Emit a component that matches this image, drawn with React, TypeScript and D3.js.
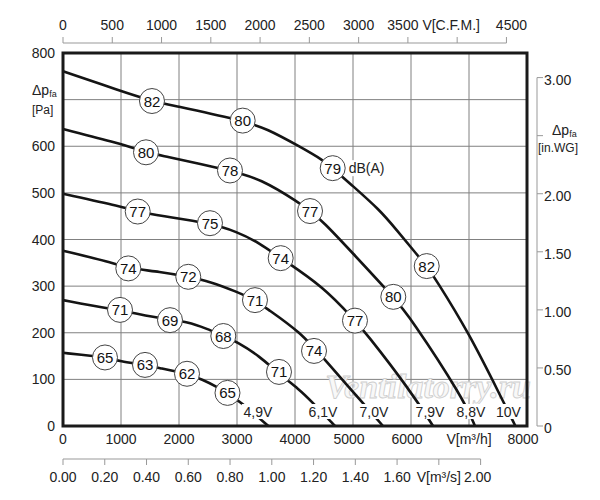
import React from "react";
import * as d3 from "d3";

// ---- data (flow m3/h, static pressure Pa) ----
const curve10V: number[][] = [[0,761],[983,719],[1534,697],[1845,689],[3098,655],[3511,638],[4086,599],[4488,570],[4650,553],[4948,520],[5466,463],[5753,420],[6040,377],[6270,343],[6414,317],[6988,202],[7564,59],[7800,0]];
const curve8_8V: number[][] = [[0,637],[983,606],[1431,587],[1672,581],[2879,548],[3397,531],[4086,478],[4259,461],[4488,438],[4948,377],[5695,277],[5983,234],[6902,59],[7103,0]];
const curve7_9V: number[][] = [[0,498],[1040,470],[1287,460],[1672,451],[2534,435],[2994,417],[3397,392],[3753,360],[4488,299],[5034,226],[5207,202],[5983,77],[6380,0]];
const curve7_0V: number[][] = [[0,376],[897,349],[1126,338],[1672,331],[2161,320],[2534,310],[2994,288],[3310,270],[3511,252],[4086,202],[4517,142],[5517,0]];
const curve6_1V: number[][] = [[0,270],[753,252],[983,249],[1213,242],[1845,227],[2132,224],[2477,209],[2764,193],[2994,181],[3397,149],[3684,116],[4086,77],[4259,56],[4690,0]];
const curve4_9V: number[][] = [[0,157],[523,150],[724,147],[983,139],[1414,131],[1672,124],[2132,112],[2420,99],[2649,84],[2822,71],[3060,52],[3540,0]];
const curves = [curve10V, curve8_8V, curve7_9V, curve7_0V, curve6_1V, curve4_9V];

// sound level labels [Q, P, dB]
const sound10V = [[1534,697,82],[3098,655,80],[4650,553,79],[6271,343,82]];
const sound8_8V = [[1431,587,80],[2879,548,78],[4259,461,77],[5695,277,80]];
const sound7_9V = [[1288,460,77],[2534,435,75],[3753,360,74],[5034,226,77]];
const sound7_0V = [[1126,338,74],[2160,320,72],[3310,270,71],[4328,161,74]];
const sound6_1V = [[983,249,71],[1845,227,69],[2764,193,68],[3724,116,71]];
const sound4_9V = [[724,147,65],[1414,131,63],[2138,112,62],[2836,71,65]];
const soundLabels = [sound10V, sound8_8V, sound7_9V, sound7_0V, sound6_1V, sound4_9V];

const voltLabels = ["4,9V", "6,1V", "7,0V", "7,9V", "8,8V", "10V"];
const voltLabelQ = [3362, 4483, 5362, 6328, 7034, 7681];
const voltLabelP = 30;

const flowTicks = [0, 1000, 2000, 3000, 4000, 5000, 6000, 7000, 8000];
const flowTickLabels = ["0", "1000", "2000", "3000", "4000", "5000", "6000", "V[m³/h]", "8000"];
const pressTicks = [0, 100, 200, 300, 400, 500, 600, 700, 800];
const pressTickLabels = ["0", "100", "200", "300", "400", "500", "600", "", "800"];
const cfmTicks = [0, 500, 1000, 1500, 2000, 2500, 3000, 3500, 4000, 4500];
const cfmTickLabels = ["0", "500", "1000", "1500", "2000", "2500", "3000", "3500", "V[C.F.M.]", "4500"];
const m3sTicks = [0, 0.2, 0.4, 0.6, 0.8, 1.0, 1.2, 1.4, 1.6, 1.8, 2.0];
const m3sTickLabels = ["0.00", "0.20", "0.40", "0.60", "0.80", "1.00", "1.20", "1.40", "1.60", "V[m³/s]", "2.00"];
const wgTicks = [0, 0.5, 1.0, 1.5, 2.0, 2.5, 3.0];
const wgTickLabels = ["0", "0.50", "1.00", "1.50", "2.00", "", "3.00"];

const FONT = "'Liberation Sans', Arial, Helvetica, sans-serif";
const TXT = "#222";

export default function App() {
  const L = 63, R = 527, T = 53, B = 426;
  const x = d3.scaleLinear().domain([0, 8000]).range([L, R]);
  const y = d3.scaleLinear().domain([0, 800]).range([B, T]);
  const xCfm = d3.scaleLinear().domain([0, 8000 / 1.699]).range([L, R]);
  const xM3s = d3.scaleLinear().domain([0, 8000 / 3600]).range([L, R]);
  const yWg = d3.scaleLinear().domain([0, 800 / 249.09]).range([B, T]);
  const line = d3.line<number[]>().x(d => x(d[0])).y(d => y(d[1])).curve(d3.curveBasis);

  const topAxisY = 43;
  const m3sAxisY = 459;
  const rightAxisX = 537;

  return (
    <svg width={600} height={500} style={{ position: "absolute", left: 0, top: 0, background: "#fff" }} fontFamily={FONT}>
      <rect x={0} y={0} width={600} height={500} fill="#fff" />
      {/* grid */}
      {flowTicks.slice(1, -1).map(t => (
        <line key={"gx" + t} x1={x(t)} x2={x(t)} y1={T} y2={B} stroke="#808080" strokeWidth={1} />
      ))}
      {pressTicks.slice(1, -1).map(t => (
        <line key={"gy" + t} x1={L} x2={R} y1={y(t)} y2={y(t)} stroke="#808080" strokeWidth={1} />
      ))}
      {/* watermark */}
      <text x={428} y={398} textAnchor="middle" fontFamily="'Liberation Serif', 'Times New Roman', serif"
        fontStyle="italic" fontWeight="bold" fontSize={34} fill="#f8f8f8" stroke="#cfcfcf" strokeWidth={0.9}>
        Ventilatorry.ru
      </text>
      {/* curves */}
      {curves.map((c, i) => (
        <path key={"c" + i} d={line(c) || ""} fill="none" stroke="#141414" strokeWidth={2.6} />
      ))}
      {/* sound labels */}
      {soundLabels.map((arr, i) =>
        arr.map((s, j) => (
          <g key={"s" + i + "-" + j}>
            <circle cx={x(s[0])} cy={y(s[1])} r={12.5} fill="#fff" stroke="#444" strokeWidth={1} />
            <text x={x(s[0])} y={y(s[1])} textAnchor="middle" dominantBaseline="central" fontSize={15} fill="#111">
              {s[2]}
            </text>
          </g>
        ))
      )}
      {/* dB(A) */}
      <rect x={x(4650) + 15} y={y(553) - 8} width={39} height={16} fill="#fff" />
      <text x={x(4650) + 16} y={y(553)} dominantBaseline="central" fontSize={14} fill={TXT}>dB(A)</text>
      {/* voltage labels */}
      {voltLabels.map((v, i) => {
        const w = v.length * 7.6;
        return (
          <g key={"v" + i}>
            <rect x={x(voltLabelQ[i]) - w / 2 - 1} y={y(voltLabelP) - 8} width={w + 2} height={15} fill="#fff" />
            <text x={x(voltLabelQ[i])} y={y(voltLabelP)} textAnchor="middle" dominantBaseline="central" fontSize={14} fill={TXT}>
              {v}
            </text>
          </g>
        );
      })}
      {/* frame */}
      <rect x={L} y={T} width={R - L} height={B - T} fill="none" stroke="#1a1a1a" strokeWidth={3} />
      {/* left tick labels */}
      {pressTicks.map((t, i) => (
        <text key={"lt" + t} x={55} y={y(t)} textAnchor="end" dominantBaseline="central" fontSize={14} fill={TXT}>
          {pressTickLabels[i]}
        </text>
      ))}
      <text x={32} y={90} dominantBaseline="central" fontSize={14} fill={TXT}>
        Δp<tspan fontSize={9} dy={4}>fa</tspan>
      </text>
      <text x={32} y={110} dominantBaseline="central" fontSize={12} fill={TXT}>[Pa]</text>
      {/* bottom m3/h labels */}
      {flowTicks.map((t, i) => (
        <text key={"bt" + t} x={x(t) + (t >= 5000 && t !== 7000 ? -4 : 0)} y={439} textAnchor="middle" dominantBaseline="central" fontSize={14} fill={TXT}>
          {flowTickLabels[i]}
        </text>
      ))}
      {/* top CFM axis */}
      <line x1={xCfm(0)} x2={xCfm(4500)} y1={topAxisY} y2={topAxisY} stroke="#999" strokeWidth={1} />
      {cfmTicks.map((t, i) => (
        <g key={"ct" + t}>
          <line x1={xCfm(t)} x2={xCfm(t)} y1={topAxisY} y2={topAxisY - 6} stroke="#999" strokeWidth={1} />
          <text x={xCfm(t) + (t === 3500 ? -5 : t === 4000 ? -6 : t === 4500 ? 5 : 0)} y={25} textAnchor="middle" dominantBaseline="central" fontSize={14} fill={TXT}>
            {cfmTickLabels[i]}
          </text>
        </g>
      ))}
      {/* bottom m3/s axis */}
      <line x1={xM3s(0)} x2={xM3s(2)} y1={m3sAxisY} y2={m3sAxisY} stroke="#999" strokeWidth={1} />
      {m3sTicks.map((t, i) => (
        <g key={"mt" + i}>
          <line x1={xM3s(t)} x2={xM3s(t)} y1={m3sAxisY} y2={m3sAxisY + 6} stroke="#999" strokeWidth={1} />
          <text x={xM3s(t) + (i === 10 ? -3 : 0)} y={477} textAnchor="middle" dominantBaseline="central" fontSize={14} fill={TXT}>
            {m3sTickLabels[i]}
          </text>
        </g>
      ))}
      {/* right in.WG axis */}
      <line x1={rightAxisX} x2={rightAxisX} y1={yWg(0)} y2={yWg(3)} stroke="#999" strokeWidth={1} />
      {wgTicks.map((t, i) => (
        <g key={"wt" + i}>
          <line x1={rightAxisX} x2={rightAxisX + 6} y1={yWg(t)} y2={yWg(t)} stroke="#999" strokeWidth={1} />
          <text x={544} y={yWg(t) + 2} dominantBaseline="central" fontSize={14} fill={TXT}>
            {wgTickLabels[i]}
          </text>
        </g>
      ))}
      <text x={552} y={130} dominantBaseline="central" fontSize={14} fill={TXT}>
        Δp<tspan fontSize={9} dy={4}>fa</tspan>
      </text>
      <text x={538} y={148} dominantBaseline="central" fontSize={12} fill={TXT}>[in.WG]</text>
    </svg>
  );
}
